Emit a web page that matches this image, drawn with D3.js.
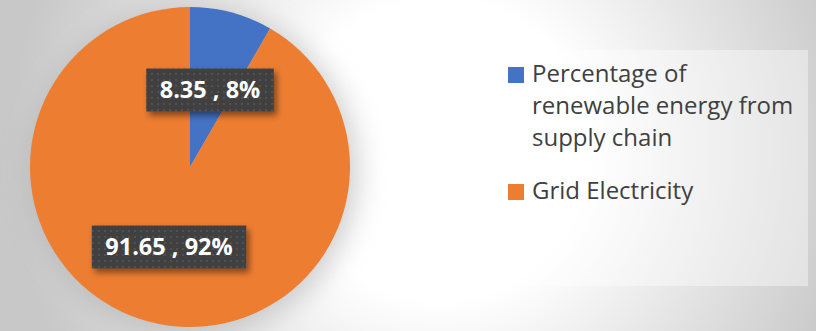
<!DOCTYPE html>
<html>
<head>
<meta charset="utf-8">
<script src="https://cdn.jsdelivr.net/npm/d3@7"></script>
<style>
  body { margin: 0; overflow: hidden; }
  svg { display: block; }
</style>
</head>
<body>
<div class="pie-container"></div>
<script>
// data
const categories = ['Percentage of renewable energy from supply chain', 'Grid Electricity'];
const legendLines = [['Percentage of', 'renewable energy from', 'supply chain'], ['Grid Electricity']];
const values = [8.35, 91.65];
const percentLabels = ['8%', '92%'];
const colors = ['#4472c4', '#ed7d31'];

const width = 816;
const height = 331;

const svg = d3.select('.pie-container')
    .append('svg')
    .attr('width', width)
    .attr('height', height);

const defs = svg.append('defs');

// background gradient (white middle, grey edges)
const bg = defs.append('radialGradient')
    .attr('id', 'bg')
    .attr('gradientUnits', 'userSpaceOnUse')
    .attr('cx', 440).attr('cy', 150).attr('r', 430);
bg.append('stop').attr('offset', '0%').attr('stop-color', '#ffffff');
bg.append('stop').attr('offset', '35%').attr('stop-color', '#ffffff');
bg.append('stop').attr('offset', '100%').attr('stop-color', '#c8c8c8');

// soft halo behind the pie
const halo = defs.append('filter')
    .attr('id', 'halo')
    .attr('x', '-30%').attr('y', '-30%').attr('width', '160%').attr('height', '160%');
halo.append('feGaussianBlur').attr('stdDeviation', 14);

// dotted pattern for label boxes
const dots = defs.append('pattern')
    .attr('id', 'dots')
    .attr('width', 6).attr('height', 6)
    .attr('patternUnits', 'userSpaceOnUse');
dots.append('rect').attr('width', 6).attr('height', 6).attr('fill', '#404040');
dots.append('circle').attr('cx', 2).attr('cy', 2).attr('r', 1.1).attr('fill', '#555555');

// label box shadow
const shadow = defs.append('filter')
    .attr('id', 'shadow')
    .attr('x', '-20%').attr('y', '-30%').attr('width', '150%').attr('height', '180%');
shadow.append('feDropShadow')
    .attr('dx', 3).attr('dy', 4)
    .attr('stdDeviation', 3)
    .attr('flood-color', '#000')
    .attr('flood-opacity', 0.45);

svg.append('rect')
    .attr('width', width)
    .attr('height', height)
    .attr('fill', 'url(#bg)');

// pie
const cx = 190, cy = 167, radius = 160;

svg.append('circle')
    .attr('cx', cx + 4).attr('cy', cy + 4).attr('r', radius + 4)
    .attr('fill', '#a8a8a8')
    .attr('opacity', 0.55)
    .attr('filter', 'url(#halo)');

const pieData = values.map((v, i) => ({ name: categories[i], value: v, pct: percentLabels[i], color: colors[i] }));

const pie = d3.pie().sort(null).value(d => d.value);
const arc = d3.arc().innerRadius(0).outerRadius(radius);

const pieG = svg.append('g')
    .attr('transform', `translate(${cx}, ${cy})`);

pieG.selectAll('path')
    .data(pie(pieData))
    .enter()
    .append('path')
    .attr('d', arc)
    .attr('fill', d => d.data.color);

// data labels
const labelPos = [[20, -77], [-21, 80]];
const labelG = pieG.selectAll('.label')
    .data(pie(pieData))
    .enter()
    .append('g')
    .attr('class', 'label')
    .attr('transform', (d, i) => `translate(${labelPos[i][0]}, ${labelPos[i][1]})`);

labelG.each(function(d) {
    const g = d3.select(this);
    const t = g.append('text')
        .attr('text-anchor', 'middle')
        .attr('dy', '0.36em')
        .style('font-family', '"Open Sans", sans-serif')
        .style('font-weight', 'bold')
        .style('font-size', '23.5px')
        .attr('fill', '#ffffff')
        .text(`${d.data.value} , ${d.data.pct}`);
    const w = t.node().getComputedTextLength() + 27;
    g.insert('rect', 'text')
        .attr('x', -w / 2)
        .attr('y', -21.5)
        .attr('width', w)
        .attr('height', 43)
        .attr('fill', 'url(#dots)')
        .attr('filter', 'url(#shadow)');
});

// legend
svg.append('rect')
    .attr('x', 494).attr('y', 50)
    .attr('width', 314).attr('height', 236)
    .attr('fill', '#ffffff')
    .attr('opacity', 0.4);

const legendTop = [82, 199];
const legend = svg.selectAll('.legend')
    .data(pieData)
    .enter()
    .append('g')
    .attr('class', 'legend')
    .attr('transform', (d, i) => `translate(508, ${legendTop[i]})`);

legend.append('rect')
    .attr('x', 0)
    .attr('y', -15)
    .attr('width', 16)
    .attr('height', 16)
    .attr('fill', d => d.color);

legend.append('text')
    .attr('x', 24)
    .style('font-family', '"Open Sans", sans-serif')
    .style('font-size', '24px')
    .attr('fill', '#404040')
    .selectAll('tspan')
    .data((d, i) => legendLines[i])
    .enter()
    .append('tspan')
    .attr('x', 24)
    .attr('y', (d, i) => i * 32)
    .text(d => d);
</script>
</body>
</html>
